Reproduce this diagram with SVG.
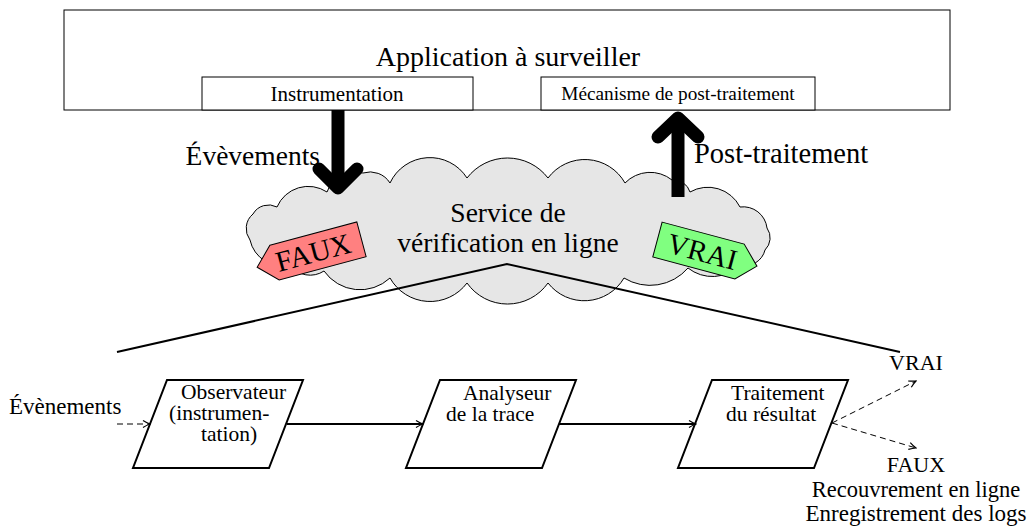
<svg xmlns="http://www.w3.org/2000/svg" width="1030" height="532" viewBox="0 0 1030 532" font-family="'Liberation Serif', 'DejaVu Serif', serif">
<defs>
<style>
text{font-family:'Liberation Serif','DejaVu Serif',serif;fill:#000}
.big{font-size:27.5px}
.mid{font-size:21.5px}
.box{fill:#fff;stroke:#000;stroke-width:1}
.para{fill:#fff;stroke:#000;stroke-width:2;stroke-linejoin:miter}
.thick{fill:none;stroke:#000;stroke-width:13;stroke-linecap:round;stroke-linejoin:round}
.shaft{fill:none;stroke:#000;stroke-width:13}
.conn{fill:none;stroke:#000;stroke-width:2}
.dash{fill:none;stroke:#000;stroke-width:1;stroke-dasharray:6 4}
.tag{stroke:#000;stroke-width:1}
</style>
<marker id="ah" viewBox="0 0 10 10" refX="9" refY="5" markerWidth="10" markerHeight="10" markerUnits="userSpaceOnUse" orient="auto">
<path d="M2,1.5 Q6,4 9,5 Q6,6 2,8.5" fill="none" stroke="#000" stroke-width="1.2"/>
</marker>
</defs>

<g id="application">
<rect class="box" x="64" y="10" width="886" height="100"/>
<text x="508" y="66" font-size="28" text-anchor="middle">Application à surveiller</text>
</g>
<g id="instrumentation">
<rect class="box" x="202" y="77" width="271" height="33"/>
<text x="337" y="101" font-size="21" text-anchor="middle">Instrumentation</text>
</g>
<g id="mecanisme">
<rect class="box" x="541" y="77" width="274" height="33"/>
<text x="678" y="100" font-size="19.3" text-anchor="middle">Mécanisme de post-traitement</text>
</g>

<g id="cloud">
<path fill="#e6e6e6" stroke="#000" stroke-width="1" d="M250,240 A19 19 0 0 1 253,214 A18 18 0 0 1 277,207 A34 34 0 0 1 327,192 A30 30 0 0 1 363,173 A23.5 23.5 0 0 1 390,183 A44 44 0 0 1 467,178 A51 51 0 0 1 548,178 A46 46 0 0 1 625,183 A35 35 0 0 1 672,180 A17 17 0 0 1 690,192 A36 36 0 0 1 740,207 A24 24 0 0 1 767,228 A17 17 0 0 1 765,250 A20.5 20.5 0 0 1 740,265 A39 39 0 0 1 688,268 A50 50 0 0 1 624,278 A46 46 0 0 1 548,283 A49.5 49.5 0 0 1 467,283 A46 46 0 0 1 390,278 A44 44 0 0 1 324,271 A25 25 0 0 1 290,265 A33 33 0 0 1 250,240 Z"/>
<text class="big" x="508" y="222" text-anchor="middle">Service de</text>
<text class="big" x="508" y="252" text-anchor="middle">vérification en ligne</text>
</g>

<g id="tag-faux" transform="translate(318,251) rotate(-15)">
<polygon class="tag" fill="#ff8080" points="-45,-18 45,-18 45,18 -45,18 -63,0"/>
<text x="-5" y="10" font-size="29" text-anchor="middle">FAUX</text>
</g>
<g id="tag-vrai" transform="translate(698.5,250.5) rotate(15)">
<polygon class="tag" fill="#80ff80" points="-42.5,-18 42.5,-18 60.5,0 42.5,18 -42.5,18"/>
<text x="4" y="10" font-size="29" text-anchor="middle">VRAI</text>
</g>

<g id="observateur">
<polygon class="para" points="167,380 303,380 269,468 133,468"/>
<text class="mid" x="181" y="399">Observateur</text>
<text class="mid" x="169" y="420">(instrumen-</text>
<text class="mid" x="201" y="441">tation)</text>
</g>
<g id="analyseur">
<polygon class="para" points="440,380 576,380 542,468 406,468"/>
<text class="mid" x="463" y="400">Analyseur</text>
<text class="mid" x="446" y="421">de la trace</text>
</g>
<g id="traitement">
<polygon class="para" points="712,380 848,380 814,468 678,468"/>
<text class="mid" x="731" y="400">Traitement</text>
<text class="mid" x="726" y="421">du résultat</text>
</g>

<g id="labels">
<text class="big" x="320" y="165" text-anchor="end">Évèvements</text>
<text x="694" y="163" font-size="28.5">Post-traitement</text>
<text x="9" y="414" font-size="23">Évènements</text>
<text x="916" y="370" font-size="22" text-anchor="middle">VRAI</text>
<text x="916" y="472" font-size="22" text-anchor="middle">FAUX</text>
<text x="916" y="497" font-size="22.5" text-anchor="middle">Recouvrement en ligne</text>
<text x="916" y="521" font-size="23" text-anchor="middle">Enregistrement des logs</text>
</g>

<g id="connectors">
<path class="shaft" d="M338,110 L338,184"/>
<polyline class="thick" points="319,169 338,188 357,169"/>
<path class="shaft" d="M678,197 L678,122"/>
<polyline class="thick" points="658,137 678,118 698,137"/>
<polyline class="conn" points="117,352 507,264 900,352"/>
<path class="dash" d="M117,424 L150,424" marker-end="url(#ah)"/>
<path class="conn" d="M287,424 L423,424" marker-end="url(#ah)"/>
<path class="conn" d="M559,424 L696,424" marker-end="url(#ah)"/>
<path class="dash" d="M832,423 L916,381" marker-end="url(#ah)"/>
<path class="dash" d="M832,423 L916,448" marker-end="url(#ah)"/>
</g>
</svg>
